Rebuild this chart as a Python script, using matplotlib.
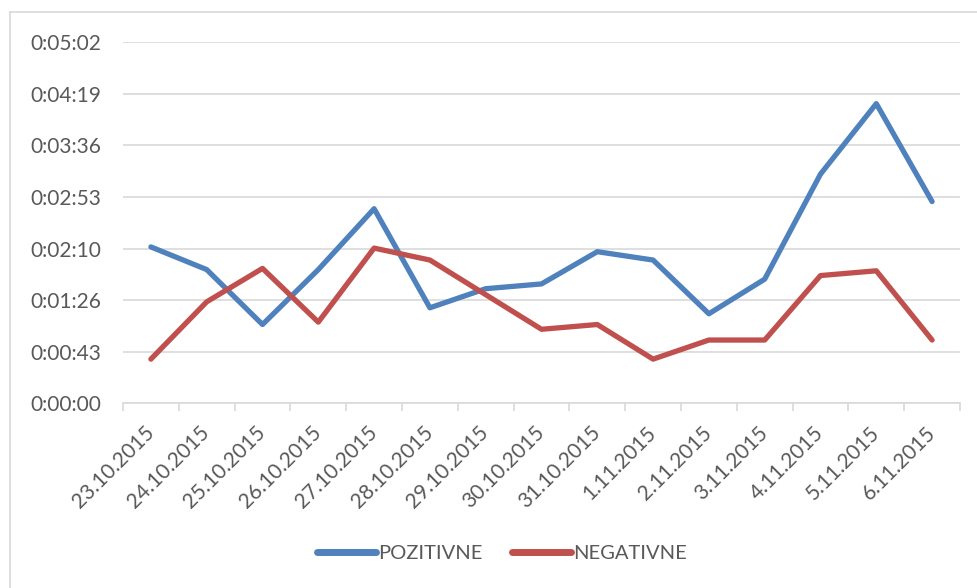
import matplotlib as mpl
mpl.use('Agg')
import matplotlib.pyplot as plt
from matplotlib.lines import Line2D
import numpy as np

dates = ['23.10.2015', '24.10.2015', '25.10.2015', '26.10.2015', '27.10.2015',
         '28.10.2015', '29.10.2015', '30.10.2015', '31.10.2015', '1.11.2015',
         '2.11.2015', '3.11.2015', '4.11.2015', '5.11.2015', '6.11.2015']
# seconds
pozitivne = [131, 112, 66, 112, 163, 80, 96, 100, 127, 120, 75, 104, 192, 251, 169]
negativne = [37, 85, 113, 68, 130, 120, 91, 62, 66, 37, 53, 53, 107, 111, 53]

series = [('POZITIVNE', pozitivne, '#4f81bd'), ('NEGATIVNE', negativne, '#c0504d')]

step = 43.2  # 0.0005 day
nsteps = 7

def fmt(s):
    s = int(round(s))
    return '%d:%02d:%02d' % (s // 3600, (s % 3600) // 60, s % 60)

plt.rcParams['font.family'] = ['Lato', 'DejaVu Sans']
gray = '#595959'

W, H = 977, 588
fig = plt.figure(figsize=(W / 100, H / 100), dpi=100)
ax = fig.add_axes([123 / W, 1 - 403.3 / H, (960 - 123) / W, (403.3 - 42.3) / H])

x = np.arange(len(dates))
for name, vals, col in series:
    ax.plot(x, vals, color=col, lw=3.8, solid_capstyle='round',
            solid_joinstyle='round', label=name, zorder=3)

ax.set_xlim(-0.5, len(dates) - 0.5)
ax.set_ylim(0, step * nsteps)
yt = [step * i for i in range(nsteps + 1)]
ax.set_yticks(yt)
ax.set_yticklabels([fmt(v) for v in yt], color=gray, fontsize=15)
ax.tick_params(axis='y', length=0, pad=16)
ax.grid(axis='y', color='#d9d9d9', lw=1.2)
ax.set_axisbelow(True)

ax.set_xticks(x)
ax.set_xticklabels(dates, rotation=45, ha='right', va='center',
                   rotation_mode='anchor', color=gray, fontsize=15)
ax.set_xticks(np.arange(len(dates) + 1) - 0.5, minor=True)
ax.tick_params(axis='x', which='major', length=0, pad=19)
ax.tick_params(axis='x', which='minor', length=6, color='#d9d9d9', width=1.2)
for lab in ax.get_xticklabels():
    lab.set_x(lab.get_position()[0])

for s in ['left', 'right', 'top']:
    ax.spines[s].set_visible(False)
ax.spines['bottom'].set_color('#d9d9d9')
ax.spines['bottom'].set_linewidth(1.2)

leg = fig.legend(loc='center', bbox_to_anchor=(502 / W, 1 - 553 / H), ncol=2,
                 frameon=False, fontsize=14.5, handlelength=2.9, handletextpad=0.1,
                 columnspacing=1.5)
for t in leg.get_texts():
    t.set_color(gray)
for h in leg.get_lines():
    h.set_linewidth(5)

# chart border
fig.add_artist(Line2D([10 / W, 10 / W], [0, 1 - 12 / H], color='#d9d9d9', lw=1.2))
fig.add_artist(Line2D([10 / W, 1], [1 - 12 / H, 1 - 12 / H], color='#d9d9d9', lw=1.2))

plt.savefig('out.png', dpi=100)
